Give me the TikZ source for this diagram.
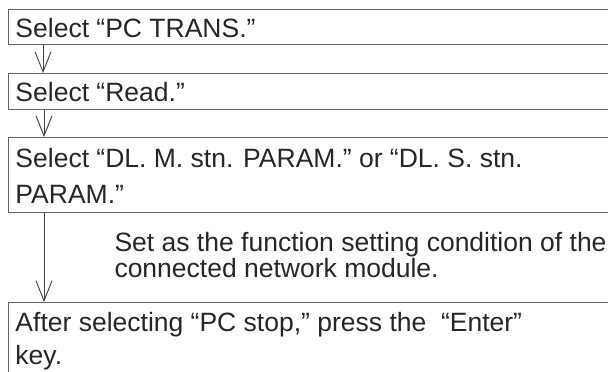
\documentclass[tikz,border=0pt]{standalone}
\usepackage{fontspec}
\setmainfont{Liberation Sans}
\usetikzlibrary{arrows.meta}

\begin{document}
\begin{tikzpicture}[x=1pt,y=1pt,line width=1pt,>={Straight Barb[length=20pt,width=16pt]}]
  \useasboundingbox (0,0) rectangle (608,-372);
  \tikzset{
    box/.style={draw=black!60,line width=1.3pt,anchor=north west,minimum width=640pt,inner sep=0pt},
    txt/.style={anchor=base west,inner sep=0pt,text=black!85,font=\fontsize{26.5}{36}\selectfont,align=left},
    flow/.style={->,draw=black!75,line width=0.9pt}
  }
  % cajas
  \node[box,minimum height=35pt] (pctrans) at (8,-9) {};
  \node[box,minimum height=36pt] (read) at (8,-73) {};
  \node[box,minimum height=75pt] (param) at (8,-137) {};
  \node[box,minimum height=110pt] (pcstop) at (8,-302) {};
  % textos (base = ultima linea)
  \node[txt] (t1) at ([xshift=7pt,yshift=-28pt]pctrans.north west) {Select “PC TRANS.”};
  \node[txt] (t2) at ([xshift=7pt,yshift=-28pt]read.north west) {Select “Read.”};
  \node[txt] (t3) at ([xshift=7pt,yshift=-66pt]param.north west) {Select “DL. M. stn. PARAM.” or “DL. S. stn.\\PARAM.”};
  \node[txt,font=\fontsize{26.5}{33}\selectfont] (t4) at ([xshift=7pt,yshift=-62pt]pcstop.north west) {After selecting “PC stop,” press the~ “Enter”\\key.};
  \node[txt,font=\fontsize{26.5}{26}\selectfont] (note) at (114,-277) {Set as the function setting condition of the\\connected network module.};
  % flechas
  \draw[flow] ([xshift=35pt]pctrans.south west) -- ([xshift=35pt]read.north west);
  \draw[flow] ([xshift=36pt]read.south west) -- ([xshift=36pt]param.north west);
  \draw[flow] ([xshift=36pt]param.south west) -- ([xshift=36pt]pcstop.north west);
\end{tikzpicture}
\end{document}
